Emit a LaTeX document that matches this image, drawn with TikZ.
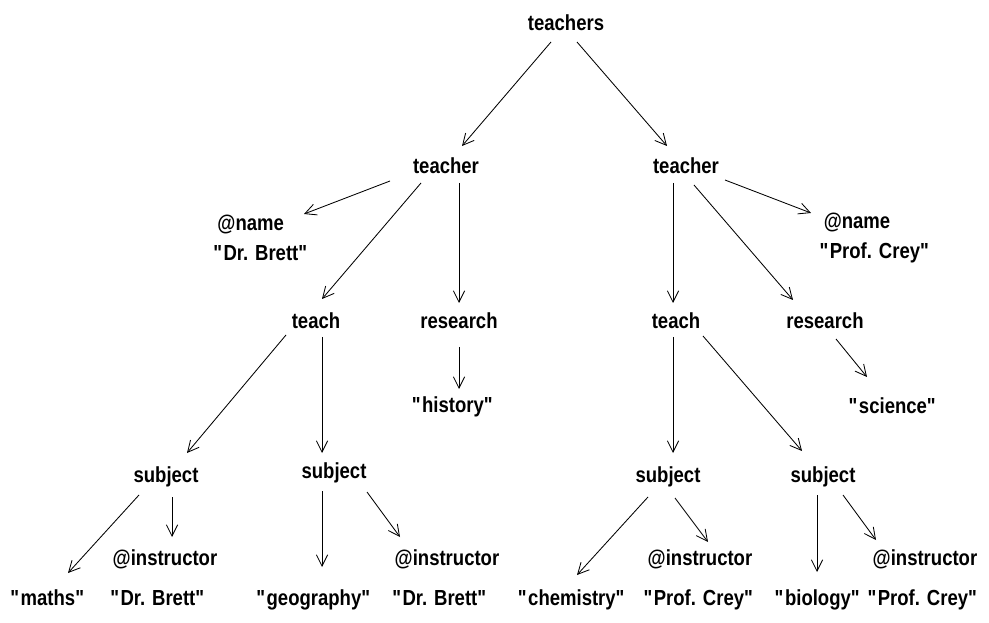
\documentclass[tikz,border=0pt]{standalone}
\usepackage{fontspec}
\setmainfont{Liberation Sans}[FakeStretch=0.85]
\usetikzlibrary{arrows.meta}

\newcommand{\qt}[1]{\textquotedbl#1\textquotedbl}

\begin{document}
\begin{tikzpicture}[x=0.025cm,y=-0.025cm,->,>={Straight Barb[length=8pt,width=8pt]},
                    line width=0.6pt,
                    main node/.style={font=\fontsize{15.5pt}{21pt}\selectfont\bfseries,
                                      inner sep=0pt, text height=10pt, text depth=0pt},
                    attr node/.style={font=\fontsize{15.5pt}{21pt}\selectfont\bfseries,
                                      inner sep=0pt, align=left}]
  \useasboundingbox (0,0) rectangle (989,623);

  %Root%
  \node[main node] (teachers) at (566,23) {teachers};
  \node[main node] (teacherA) at (446,166) {teacher};
  \node[main node] (teacherB) at (686,166) {teacher};

  %First teacher%
  \node[attr node] (nameA) at (261,238) {\hspace{3pt}@name\\\qt{Dr. Brett}};
  \node[main node] (teachA) at (316,321) {teach};
  \node[main node] (researchA) at (459,321) {research};
  \node[main node] (history) at (453,405) {\qt{history}};
  \node[main node] (subjectA) at (166,475) {subject};
  \node[main node] (subjectB) at (334,471) {subject};
  \node[main node] (instrA) at (165,558) {@instructor};
  \node[main node] (instrB) at (447,558) {@instructor};
  \node[main node] (maths) at (48,598) {\qt{maths}};
  \node[main node] (valA) at (158,598) {\qt{Dr. Brett}};
  \node[main node] (geography) at (314,598) {\qt{geography}};
  \node[main node] (valB) at (440,598) {\qt{Dr. Brett}};

  %Second teacher%
  \node[attr node] (nameB) at (875,238) {\hspace{3pt}@name\\\qt{Prof. Crey}};
  \node[main node] (teachB) at (676,321) {teach};
  \node[main node] (researchB) at (825,321) {research};
  \node[main node] (science) at (893,406) {\qt{science}};
  \node[main node] (subjectC) at (668,475) {subject};
  \node[main node] (subjectD) at (823,475) {subject};
  \node[main node] (instrC) at (700,558) {@instructor};
  \node[main node] (instrD) at (925,558) {@instructor};
  \node[main node] (chemistry) at (572,598) {\qt{chemistry}};
  \node[main node] (valC) at (699,598) {\qt{Prof. Crey}};
  \node[main node] (biology) at (818,598) {\qt{biology}};
  \node[main node] (valD) at (923,598) {\qt{Prof. Crey}};

  %Root edges%
  \draw ([shift={(-15,19)}]teachers.center) -- ([shift={(16,-20)}]teacherA.center);
  \draw ([shift={(11,19)}]teachers.center) -- ([shift={(-19,-20)}]teacherB.center);

  %First teacher edges%
  \draw ([shift={(-56,15)}]teacherA.center) -- ([shift={(43,-24)}]nameA.center);
  \draw ([shift={(-25,17)}]teacherA.center) -- ([shift={(6,-22)}]teachA.center);
  \draw ([shift={(13,17)}]teacherA.center) -- ([shift={(0,-18)}]researchA.center);
  \draw ([shift={(0,26)}]researchA.center) -- ([shift={(6,-16)}]history.center);
  \draw ([shift={(-30,14)}]teachA.center) -- ([shift={(21,-22)}]subjectA.center);
  \draw ([shift={(6,16)}]teachA.center) -- ([shift={(-12,-18)}]subjectB.center);
  \draw ([shift={(-27,20)}]subjectA.center) -- ([shift={(20,-25)}]maths.center);
  \draw ([shift={(6,22)}]subjectA.center) -- ([shift={(7,-21)}]instrA.center);
  \draw ([shift={(-12,20)}]subjectB.center) -- ([shift={(8,-31)}]geography.center);
  \draw ([shift={(33,21)}]subjectB.center) -- ([shift={(-47,-21)}]instrB.center);

  %Second teacher edges%
  \draw ([shift={(39,14)}]teacherB.center) -- ([shift={(-64,-25)}]nameB.center);
  \draw ([shift={(-13,17)}]teacherB.center) -- ([shift={(-3,-18)}]teachB.center);
  \draw ([shift={(8,19)}]teacherB.center) -- ([shift={(-32,-21)}]researchB.center);
  \draw ([shift={(11,18)}]researchB.center) -- ([shift={(-26,-29)}]science.center);
  \draw ([shift={(-3,16)}]teachB.center) -- ([shift={(5,-22)}]subjectC.center);
  \draw ([shift={(27,15)}]teachB.center) -- ([shift={(-21,-24)}]subjectD.center);
  \draw ([shift={(-20,22)}]subjectC.center) -- ([shift={(5,-23)}]chemistry.center);
  \draw ([shift={(7,23)}]subjectC.center) -- ([shift={(8,-16)}]instrC.center);
  \draw ([shift={(-6,20)}]subjectD.center) -- ([shift={(-1,-26)}]biology.center);
  \draw ([shift={(20,20)}]subjectD.center) -- ([shift={(-49,-18)}]instrD.center);
\end{tikzpicture}
\end{document}
